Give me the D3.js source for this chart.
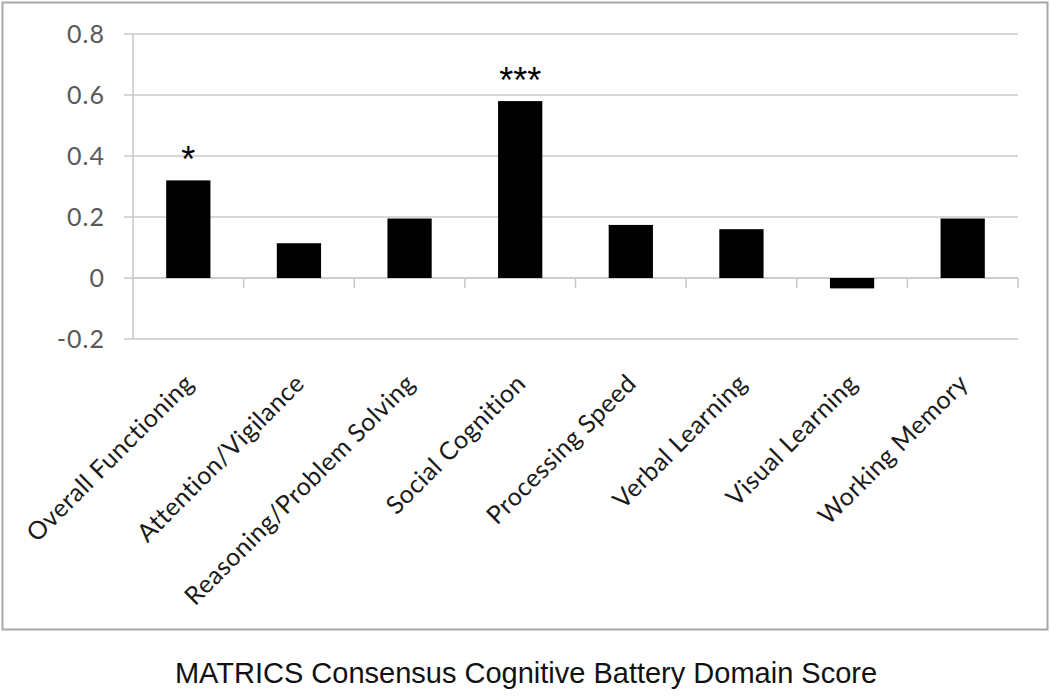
<!DOCTYPE html>
<html>
<head>
<meta charset="utf-8">
<script src="https://cdn.jsdelivr.net/npm/d3@7"></script>
<style>
  html, body { margin: 0; padding: 0; background: #fff; }
  svg { display: block; }
</style>
</head>
<body>
<svg id="chart" width="1050" height="697"></svg>
<script>
const categories = ["Overall Functioning", "Attention/Vigilance", "Reasoning/Problem Solving", "Social Cognition", "Processing Speed", "Verbal Learning", "Visual Learning", "Working Memory"];
const values = [0.32, 0.114, 0.195, 0.58, 0.174, 0.16, -0.034, 0.195];
const significance = ["*", "", "", "***", "", "", "", ""];
const yTicks = [-0.2, 0, 0.2, 0.4, 0.6, 0.8];
const yTickLabels = ["-0.2", "0", "0.2", "0.4", "0.6", "0.8"];
const title = "MATRICS Consensus Cognitive Battery Domain Score";

const svg = d3.select("#chart");
const plot = { left: 133, right: 1018, top: 34, bottom: 339 };

// outer frame
svg.append("rect").attr("x", 2.5).attr("y", 2.5).attr("width", 1045).attr("height", 627)
  .attr("fill", "#fff").attr("stroke", "#a9a9a9").attr("stroke-width", 2);

const x = d3.scaleBand().domain(categories).range([plot.left, plot.right]).paddingInner(0.6).paddingOuter(0.3);
const xEdge = d3.scaleBand().domain(categories).range([plot.left, plot.right]).padding(0);
const y = d3.scaleLinear().domain([-0.2, 0.8]).range([plot.bottom, plot.top]);

// gridlines
svg.append("g").selectAll("line").data(yTicks).join("line")
  .attr("x1", plot.left - 9).attr("x2", plot.right)
  .attr("y1", d => y(d)).attr("y2", d => y(d))
  .attr("stroke", "#cacaca").attr("stroke-width", 1.6);

// y axis line
svg.append("line").attr("x1", plot.left).attr("x2", plot.left)
  .attr("y1", y(0.8)).attr("y2", y(-0.2)).attr("stroke", "#cacaca").attr("stroke-width", 1.6);

// y tick labels
svg.append("g").selectAll("text").data(yTicks).join("text")
  .attr("x", plot.left - 28).attr("y", d => y(d)).attr("dy", "0.36em")
  .attr("text-anchor", "end")
  .attr("font-family", "Lato, 'Open Sans', sans-serif").attr("font-size", 25)
  .attr("letter-spacing", 1)
  .attr("fill", "#595959")
  .text((d, i) => yTickLabels[i]);

// x axis at zero with category tick marks
svg.append("line").attr("x1", plot.left).attr("x2", plot.right)
  .attr("y1", y(0)).attr("y2", y(0)).attr("stroke", "#cacaca").attr("stroke-width", 1.6);
const edges = categories.slice(1).map(c => xEdge(c)).concat([plot.right]);
svg.append("g").selectAll("line").data(edges).join("line")
  .attr("x1", d => d).attr("x2", d => d)
  .attr("y1", y(0)).attr("y2", y(0) + 10)
  .attr("stroke", "#cacaca").attr("stroke-width", 1.6);

// bars
svg.append("g").selectAll("rect").data(values).join("rect")
  .attr("x", (d, i) => x(categories[i]))
  .attr("width", x.bandwidth())
  .attr("y", d => y(Math.max(0, d)))
  .attr("height", d => Math.abs(y(d) - y(0)))
  .attr("fill", "#000");

// significance markers
svg.append("g").selectAll("text").data(values).join("text")
  .attr("x", (d, i) => x(categories[i]) + x.bandwidth() / 2)
  .attr("y", d => y(d) - 8)
  .attr("text-anchor", "middle")
  .attr("font-family", "'Liberation Sans', Arial, sans-serif").attr("font-size", 36)
  .attr("fill", "#000")
  .text((d, i) => significance[i]);

// category labels rotated
svg.append("g").selectAll("text").data(categories).join("text")
  .attr("transform", d => `translate(${x(d) + x.bandwidth() / 2 + 7},${plot.bottom + 46}) rotate(-45)`)
  .attr("text-anchor", "end")
  .attr("font-family", "Lato, 'Open Sans', sans-serif").attr("font-size", 25)
  .attr("letter-spacing", 0.5)
  .attr("fill", "#1a1a1a")
  .text(d => d);

// title
svg.append("text").attr("x", 526).attr("y", 683)
  .attr("text-anchor", "middle")
  .attr("font-family", "'Liberation Sans', Arial, sans-serif").attr("font-size", 29)
  .attr("fill", "#111")
  .text(title);
</script>
</body>
</html>
